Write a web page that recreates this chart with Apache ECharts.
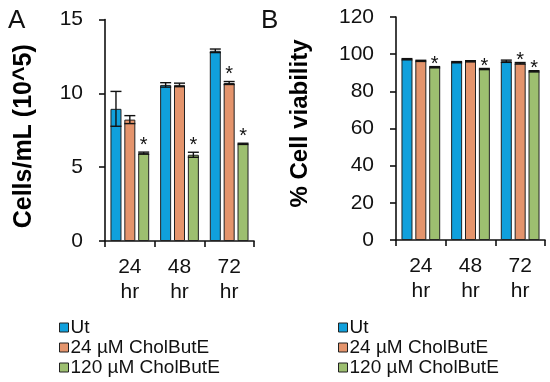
<!DOCTYPE html>
<html>
<head>
<meta charset="utf-8">
<script src="https://cdn.jsdelivr.net/npm/echarts@6/dist/echarts.min.js"></script>
<style>
html,body{margin:0;padding:0;background:#fff;}
#chart{width:550px;height:382px;}
</style>
</head>
<body>
<div id="chart"></div>
<script>
// ---- Data ----
const categories = ['24', '48', '72'];
const seriesNames = ['Ut', '24 µM CholButE', '120 µM CholButE'];

// Panel A: Cells/mL (10^5)
const cellsUt = [8.95, 10.57, 12.88];
const cells24 = [8.22, 10.57, 10.70];
const cells120 = [5.95, 5.84, 6.58];
const cellsErrUt = [1.18, 0.15, 0.12];
const cellsErr24 = [0.27, 0.12, 0.10];
const cellsErr120 = [0.07, 0.17, 0.04];
const cellsSigUt = [0, 0, 0];
const cellsSig24 = [0, 0, 1];
const cellsSig120 = [1, 1, 1];

// Panel B: % Cell viability
const viabUt = [97.3, 95.7, 96.2];
const viab24 = [96.4, 96.2, 95.1];
const viab120 = [93.0, 92.0, 90.8];
const viabErrUt = [0.3, 0.3, 0.6];
const viabErr24 = [0.3, 0.3, 0.4];
const viabErr120 = [0.3, 0.3, 0.3];
const viabSigUt = [0, 0, 0];
const viabSig24 = [0, 0, 1];
const viabSig120 = [1, 1, 1];

const yTicksA = {min: 0, max: 15, interval: 5};
const yTicksB = {min: 0, max: 120, interval: 20};

// ---- Style ----
const colors = ['#10a0dc', '#e4946c', '#9dbf70'];
const BAR_W = 11;
const BAR_GAP = 0.26;
const AXIS = '#111';

function barSeries(name, data, idx, axisIdx) {
  return {
    type: 'bar', name: name, data: data,
    xAxisIndex: axisIdx, yAxisIndex: axisIdx,
    barWidth: BAR_W, barGap: (BAR_GAP * 100) + '%',
    itemStyle: {color: colors[idx], borderColor: '#222', borderWidth: 1},
    z: 2
  };
}

function errData(means, errs, sigs) {
  const rows = [];
  for (let s = 0; s < means.length; s++) {
    for (let c = 0; c < means[s].length; c++) {
      rows.push([c, s, means[s][c], errs[s][c], sigs[s][c]]);
    }
  }
  return rows;
}

function errSeries(rows, axisIdx, starLift) {
  return {
    type: 'custom',
    xAxisIndex: axisIdx, yAxisIndex: axisIdx,
    data: rows,
    encode: {x: 0, y: 2},
    z: 5,
    silent: true,
    renderItem: function (params, api) {
      const c = api.value(0), s = api.value(1), m = api.value(2), e = api.value(3), sig = api.value(4);
      const step = BAR_W * (1 + BAR_GAP);
      const total = 3 * BAR_W + 2 * BAR_GAP * BAR_W;
      const off = -total / 2 + BAR_W / 2 + s * step;
      const top = api.coord([c, m + e]);
      const bot = api.coord([c, m - e]);
      const x = top[0] + off;
      const hw = BAR_W / 2;
      const st = {stroke: '#111', lineWidth: 1.4};
      const children = [];
      if (e > 0) {
        children.push({type: 'line', shape: {x1: x, y1: top[1], x2: x, y2: bot[1]}, style: st});
        children.push({type: 'line', shape: {x1: x - hw, y1: top[1], x2: x + hw, y2: top[1]}, style: st});
        children.push({type: 'line', shape: {x1: x - hw, y1: bot[1], x2: x + hw, y2: bot[1]}, style: st});
      }
      if (sig) {
        children.push({type: 'text', x: x, y: top[1] - starLift,
          style: {text: '*', fill: '#111', fontSize: 20, fontFamily: 'Liberation Sans, Arial, sans-serif',
                  align: 'center', verticalAlign: 'middle'}});
      }
      return {type: 'group', children: children};
    }
  };
}

const font = 'Liberation Sans, Arial, sans-serif';

function yAxis(gi, ticks, name, nameGap, nameSize, namePad) {
  return {
    gridIndex: gi, type: 'value', min: ticks.min, max: ticks.max, interval: ticks.interval,
    name: name, nameLocation: 'middle', nameGap: nameGap,
    nameTextStyle: {fontSize: nameSize, fontWeight: 'bold', color: '#000', fontFamily: font, padding: namePad},
    axisLine: {show: true, lineStyle: {color: AXIS, width: 1.6}},
    axisTick: {show: true, length: 6, lineStyle: {color: AXIS, width: 1.6}},
    axisLabel: {fontSize: 21, color: '#111', margin: 22, fontFamily: font},
    splitLine: {show: false}
  };
}

function xAxis(gi) {
  return {
    gridIndex: gi, type: 'category', data: categories,
    axisLine: {show: true, lineStyle: {color: AXIS, width: 1.6}},
    axisTick: {show: true, length: 6, inside: false, lineStyle: {color: AXIS, width: 1.6}},
    axisLabel: {fontSize: 21, color: '#111', margin: 14, lineHeight: 25, fontFamily: font,
      formatter: function (v) { return v + '\nhr'; }}
  };
}

function legend(left) {
  return {
    data: seriesNames, orient: 'vertical', left: left, top: 318, height: 64,
    padding: 0,
    itemWidth: 9, itemHeight: 9, itemGap: 1,
    icon: 'rect',
    itemStyle: {borderColor: '#222', borderWidth: 1},
    textStyle: {fontSize: 19, color: '#111', lineHeight: 19, fontFamily: font, padding: [0, 0, 0, -3]},
    selectedMode: false
  };
}

const option = {
  animation: false,
  backgroundColor: '#fff',
  title: [
    {text: 'A', left: 3, top: 3, textStyle: {fontSize: 26, fontWeight: 'normal', color: '#111', fontFamily: font}},
    {text: 'B', left: 256, top: 3, textStyle: {fontSize: 26, fontWeight: 'normal', color: '#111', fontFamily: font}}
  ],
  grid: [
    {left: 105, right: 296, top: 19.5, bottom: 141},
    {left: 396, right: 5, top: 17, bottom: 142}
  ],
  xAxis: [xAxis(0), xAxis(1)],
  yAxis: [
    yAxis(0, yTicksA, 'Cells/mL (10^5)', 68, 25, [0, 12, 0, 0]),
    yAxis(1, yTicksB, '% Cell viability', 84, 24, [0, 0, 0, 10])
  ],
  legend: [legend(59), legend(338)],
  series: [
    barSeries(seriesNames[0], cellsUt, 0, 0),
    barSeries(seriesNames[1], cells24, 1, 0),
    barSeries(seriesNames[2], cells120, 2, 0),
    barSeries(seriesNames[0], viabUt, 0, 1),
    barSeries(seriesNames[1], viab24, 1, 1),
    barSeries(seriesNames[2], viab120, 2, 1),
    errSeries(errData([cellsUt, cells24, cells120], [cellsErrUt, cellsErr24, cellsErr120],
      [cellsSigUt, cellsSig24, cellsSig120]), 0, 7),
    errSeries(errData([viabUt, viab24, viab120], [viabErrUt, viabErr24, viabErr120],
      [viabSigUt, viabSig24, viabSig120]), 1, 2)
  ]
};

const chart = echarts.init(document.getElementById('chart'), null, {renderer: 'canvas'});
chart.setOption(option);
</script>
</body>
</html>
